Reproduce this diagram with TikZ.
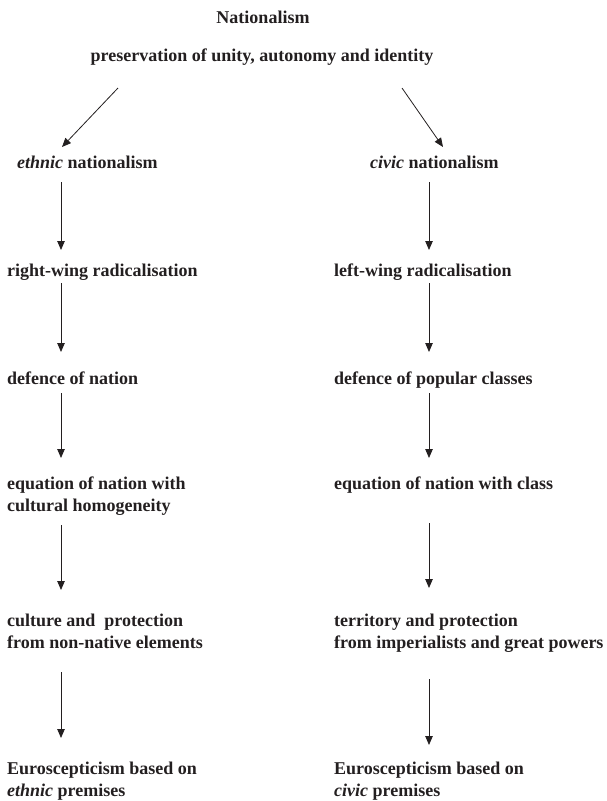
\documentclass[tikz,border=0pt]{standalone}
\usepackage{fontspec}
\setmainfont{Liberation Serif}
\usetikzlibrary{arrows.meta}

\definecolor{ink}{HTML}{231F20}

\tikzset{
    label/.style={inner sep=0pt, text=ink, font=\fontsize{18}{22}\selectfont\bfseries, align=left},
    flow/.style={-{Triangle[length=9pt,width=7.5pt]}, line width=0.8pt, draw=ink}
}

\begin{document}
\begin{tikzpicture}[x=1pt,y=-1pt]
        \useasboundingbox (0,0) rectangle (607,801);

        % columns of the arrows
        \coordinate (colL) at (61,0);
        \coordinate (colR) at (429,0);

        % heading
        \node[label, anchor=base] (nat) at (263,23) {Nationalism};
        \node[label, anchor=base] (pres) at (262,61) {preservation of unity, autonomy and identity};

        % left column (base of two-line nodes = last line)
        \node[label, anchor=base west] (eth) at (17,168) {\textit{ethnic} nationalism};
        \node[label, anchor=base west] (rw) at (7,276) {right-wing radicalisation};
        \node[label, anchor=base west] (defL) at (7,384) {defence of nation};
        \node[label, anchor=base west] (eqL) at (7,511) {equation of nation with\\cultural homogeneity};
        \node[label, anchor=base west] (cult) at (7,648) {culture and\ \ protection\\from non-native elements};
        \node[label, anchor=base west] (euroL) at (7,796) {Euroscepticism based on\\\textit{ethnic} premises};

        % right column
        \node[label, anchor=base west] (civ) at (370,168) {\textit{civic} nationalism};
        \node[label, anchor=base west] (lw) at (334,276) {left-wing radicalisation};
        \node[label, anchor=base west] (defR) at (334,384) {defence of popular classes};
        \node[label, anchor=base west] (eqR) at (334,489) {equation of nation with class};
        \node[label, anchor=base west] (terr) at (334,648) {territory and protection\\from imperialists and great powers};
        \node[label, anchor=base west] (euroR) at (334,796) {Euroscepticism based on\\\textit{civic} premises};

        % split
        \draw[flow] ([xshift=-144pt,yshift=-27pt]pres.base) -- ([xshift=45pt,yshift=21pt]eth.base west);
        \draw[flow] ([xshift=140pt,yshift=-27pt]pres.base) -- ([xshift=73pt,yshift=21pt]civ.base west);

        % left chain
        \draw[flow] ([yshift=-14pt]eth.base -| colL) -- ([yshift=26pt]rw.base -| colL);
        \draw[flow] ([yshift=-7pt]rw.base -| colL) -- ([yshift=32pt]defL.base -| colL);
        \draw[flow] ([yshift=-9pt]defL.base -| colL) -- ([yshift=53pt]eqL.base -| colL);
        \draw[flow] ([yshift=-14pt]eqL.base -| colL) -- ([yshift=58pt]cult.base -| colL);
        \draw[flow] ([yshift=-24pt]cult.base -| colL) -- ([yshift=58pt]euroL.base -| colL);

        % right chain
        \draw[flow] ([yshift=-14pt]civ.base -| colR) -- ([yshift=26pt]lw.base -| colR);
        \draw[flow] ([yshift=-7pt]lw.base -| colR) -- ([yshift=32pt]defR.base -| colR);
        \draw[flow] ([yshift=-9pt]defR.base -| colR) -- ([yshift=31pt]eqR.base -| colR);
        \draw[flow] ([yshift=-34pt]eqR.base -| colR) -- ([yshift=60pt]terr.base -| colR);
        \draw[flow] ([yshift=-31pt]terr.base -| colR) -- ([yshift=51pt]euroR.base -| colR);
\end{tikzpicture}
\end{document}
